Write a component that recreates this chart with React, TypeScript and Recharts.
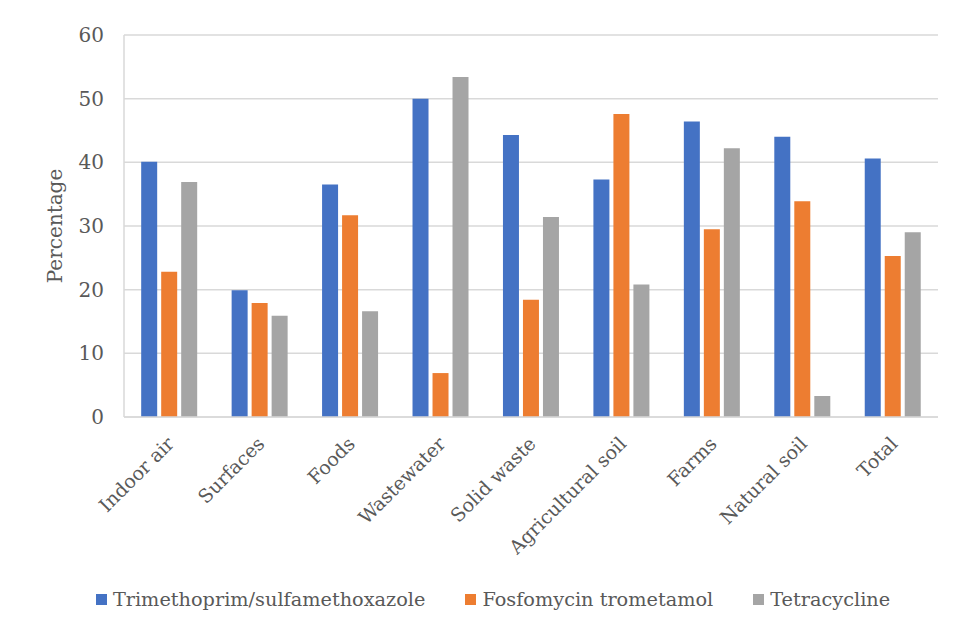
import React from "react";
import { BarChart, Bar, XAxis, YAxis, CartesianGrid, Legend } from "recharts";

const categories = ["Indoor air", "Surfaces", "Foods", "Wastewater", "Solid waste", "Agricultural soil", "Farms", "Natural soil", "Total"];
const trimethoprim = [40.1, 19.9, 36.5, 50.0, 44.3, 37.3, 46.4, 44.0, 40.6];
const fosfomycin = [22.8, 17.9, 31.7, 6.9, 18.4, 47.6, 29.5, 33.9, 25.3];
const tetracycline = [36.9, 15.9, 16.6, 53.4, 31.4, 20.8, 42.2, 3.3, 29.0];
const yTicks = [0, 10, 20, 30, 40, 50, 60];
const seriesNames = ["Trimethoprim/sulfamethoxazole", "Fosfomycin trometamol", "Tetracycline"];

const data = categories.map((c, i) => ({
  name: c,
  a: trimethoprim[i],
  b: fosfomycin[i],
  c: tetracycline[i],
}));

const FONT = "'DejaVu Serif', serif";
const TEXT = "#595959";

const XTick = (props: any) => {
  const { x, y, payload } = props;
  return (
    <g transform={`translate(${x + 6},${y + 20})`}>
      <text
        x={0}
        y={0}
        textAnchor="end"
        transform="rotate(-45)"
        fill={TEXT}
        fontSize={19}
        style={{ fontFamily: FONT }}
      >
        {payload.value}
      </text>
    </g>
  );
};

const colors = ["#4472C4", "#ED7D31", "#A5A5A5"];

const LegendContent = () => (
  <div style={{ display: "flex", justifyContent: "center", alignItems: "center", fontFamily: FONT, fontSize: 19.3, color: TEXT, width: 956, paddingLeft: 30, boxSizing: "border-box" }}>
    {seriesNames.map((n, i) => (
      <div key={n} style={{ display: "flex", alignItems: "center", marginRight: i < 2 ? 40 : 0 }}>
        <div style={{ width: 11, height: 11, background: colors[i], marginRight: 6 }} />
        <span>{n}</span>
      </div>
    ))}
  </div>
);

export default function App() {
  return (
    <div style={{ position: "relative", width: 956, height: 635, margin: -8, overflow: "hidden", background: "#fff" }}>
      <div style={{ position: "absolute", left: 7, top: 6, width: 980, height: 660, border: "1.5px solid #d9d9d9", boxSizing: "border-box" }} />
      <div style={{ position: "absolute", left: 0, top: 0 }}>
        <BarChart
          width={956}
          height={635}
          data={data}
          margin={{ top: 35, right: 18, left: 0, bottom: 10 }}
          barCategoryGap="19%"
          barGap={4}
        >
          <CartesianGrid vertical={false} stroke="#d9d9d9" strokeWidth={1.5} />
          <XAxis
            dataKey="name"
            height={182}
            tick={<XTick />}
            tickLine={false}
            axisLine={{ stroke: "#d9d9d9", strokeWidth: 1.5 }}
            interval={0}
          />
          <YAxis
            width={124}
            domain={[0, 60]}
            ticks={yTicks}
            tickLine={false}
            axisLine={{ stroke: "#d9d9d9", strokeWidth: 1.5 }}
            tick={{ fill: TEXT, fontSize: 20, style: { fontFamily: FONT } }}
            tickMargin={14}
            label={{ value: "Percentage", angle: -90, position: "insideLeft", dx: 50, style: { fill: TEXT, fontSize: 20, fontFamily: FONT, textAnchor: "middle" } }}
          />
          <Legend verticalAlign="bottom" content={<LegendContent />} wrapperStyle={{ left: 0, top: 588, width: 956, height: 26, paddingTop: 0 }} />
          <Bar dataKey="a" name={seriesNames[0]} fill={colors[0]} isAnimationActive={false} />
          <Bar dataKey="b" name={seriesNames[1]} fill={colors[1]} isAnimationActive={false} />
          <Bar dataKey="c" name={seriesNames[2]} fill={colors[2]} isAnimationActive={false} />
        </BarChart>
      </div>
    </div>
  );
}
